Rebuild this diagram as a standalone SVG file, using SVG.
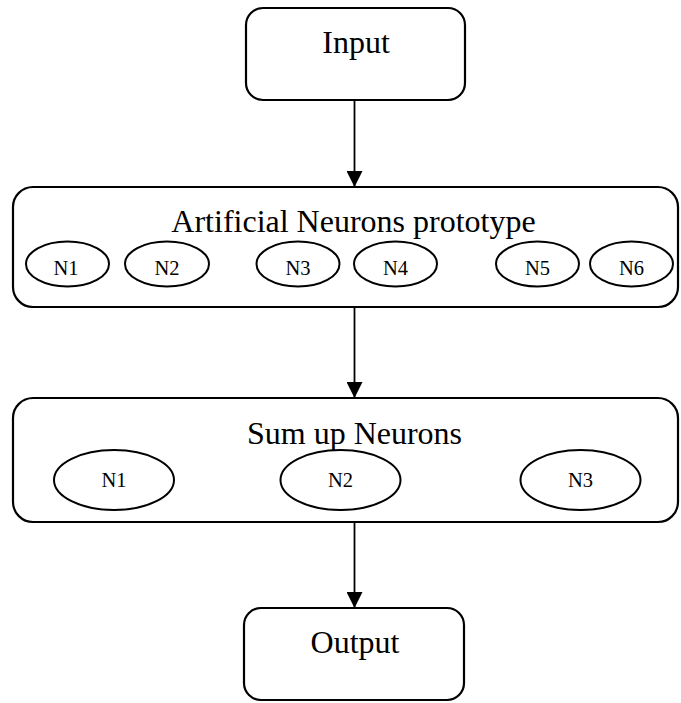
<svg xmlns="http://www.w3.org/2000/svg" width="681" height="703" viewBox="0 0 681 703">
<style>
.box{fill:#fff;stroke:#000;stroke-width:2.2}
.ell{fill:#fff;stroke:#000;stroke-width:2}
.big{font-family:"Liberation Serif","Times New Roman",serif;font-size:32px;text-anchor:middle;fill:#000}
.small{font-family:"Liberation Serif","Times New Roman",serif;font-size:20.5px;text-anchor:middle;fill:#000}
.edge{stroke:#000;stroke-width:1.8;fill:none;marker-end:url(#arr)}
</style>
<defs>
<marker id="arr" markerUnits="userSpaceOnUse" markerWidth="16" markerHeight="16" viewBox="0 0 16 16" refX="16" refY="8" orient="auto">
<path d="M0,0 L16,8 L0,16 Z" fill="#000"/>
</marker>
</defs>
<g id="input">
<rect class="box" x="246" y="8" width="219" height="92" rx="17"/>
<text class="big" x="356" y="53">Input</text>
</g>
<g id="artificial">
<rect class="box" x="13" y="187" width="665" height="120" rx="20"/>
<text class="big" x="353.5" y="232">Artificial Neurons prototype</text>
<g id="a-n1"><ellipse class="ell" cx="67.5" cy="264" rx="41.5" ry="22.5"/><text class="small" x="66" y="275">N1</text></g>
<g id="a-n2"><ellipse class="ell" cx="167" cy="264" rx="42" ry="22.5"/><text class="small" x="167" y="275">N2</text></g>
<g id="a-n3"><ellipse class="ell" cx="298" cy="264" rx="41.5" ry="22.5"/><text class="small" x="298" y="275">N3</text></g>
<g id="a-n4"><ellipse class="ell" cx="395.5" cy="264" rx="41.5" ry="22.5"/><text class="small" x="395.5" y="275">N4</text></g>
<g id="a-n5"><ellipse class="ell" cx="537.5" cy="264" rx="41.5" ry="22.5"/><text class="small" x="537.5" y="275">N5</text></g>
<g id="a-n6"><ellipse class="ell" cx="631.5" cy="264" rx="41.5" ry="22.5"/><text class="small" x="631.5" y="275">N6</text></g>
</g>
<g id="sumup">
<rect class="box" x="13" y="398" width="665" height="124" rx="20"/>
<text class="big" x="354.5" y="444">Sum up Neurons</text>
<g id="s-n1"><ellipse class="ell" cx="114" cy="480" rx="60" ry="30"/><text class="small" x="114" y="487">N1</text></g>
<g id="s-n2"><ellipse class="ell" cx="340.5" cy="480" rx="60" ry="30"/><text class="small" x="340.5" y="487">N2</text></g>
<g id="s-n3"><ellipse class="ell" cx="580.5" cy="480" rx="60" ry="30"/><text class="small" x="580.5" y="487">N3</text></g>
</g>
<g id="output">
<rect class="box" x="244" y="608" width="220" height="92" rx="17"/>
<text class="big" x="355" y="653">Output</text>
</g>
<g id="connectors">
<line class="edge" x1="354.5" y1="100" x2="354.5" y2="187"/>
<line class="edge" x1="354.5" y1="307" x2="354.5" y2="398"/>
<line class="edge" x1="354.5" y1="522" x2="354.5" y2="608"/>
</g>
</svg>
